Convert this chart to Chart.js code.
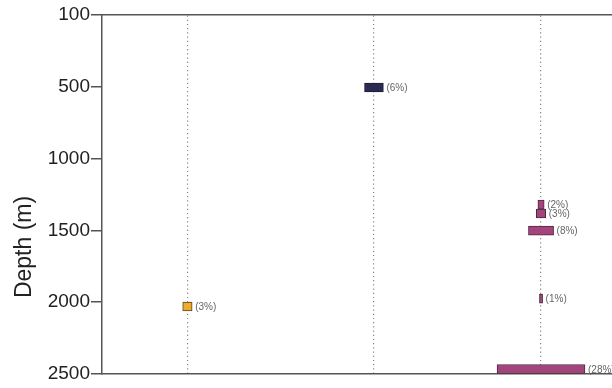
<!DOCTYPE html>
<html>
<head>
<meta charset="utf-8">
<script src="https://cdn.jsdelivr.net/npm/chart.js@4/dist/chart.umd.min.js"></script>
<style>
  html, body { margin: 0; padding: 0; background: #fff; }
  #wrap { width: 612px; height: 388px; }
</style>
</head>
<body>
<div id="wrap"><canvas id="depthChart"></canvas></div>
<script>
// column positions along x (in % units) and depth tick labels
const columnX = [27.2, 86.6, 139.8];
const depthTicks = [0, 500, 1000, 1500, 2000, 2500];
const depthTickLabels = ['100', '500', '1000', '1500', '2000', '2500'];

// one series per column: depth of each bar and its share (%)
const col1Depth = [2030];
const col1Pct = [3];
const col2Depth = [505];
const col2Pct = [6];
const col3Depth = [1320, 1382, 1502, 1975, 2465];
const col3Pct = [2, 3, 8, 1, 28];

const makeBars = (col, depths, pcts) =>
    depths.map((d, i) => ({ y: d, x: [columnX[col] - pcts[i] / 2, columnX[col] + pcts[i] / 2], pct: pcts[i] }));

const barLabels = {
    id: 'barLabels',
    afterDatasetsDraw(chart) {
        const ctx = chart.ctx;
        ctx.save();
        ctx.font = '10px "Liberation Sans", Arial, sans-serif';
        ctx.fillStyle = '#666';
        ctx.textBaseline = 'middle';
        chart.data.datasets.forEach((ds, di) => {
            chart.getDatasetMeta(di).data.forEach((el, i) => {
                ctx.fillText('(' + ds.data[i].pct + '%)', el.x + 3, el.y + 1);
            });
        });
        ctx.restore();
    }
};

const axisTitle = {
    id: 'axisTitle',
    afterDraw(chart) {
        const ctx = chart.ctx;
        ctx.save();
        ctx.font = '23px "Liberation Sans", Arial, sans-serif';
        ctx.fillStyle = '#222';
        ctx.textAlign = 'center';
        ctx.textBaseline = 'middle';
        ctx.translate(25, 247);
        ctx.rotate(-Math.PI / 2);
        ctx.fillText('Depth (m)', 0, 0);
        ctx.restore();
    }
};

const common = { borderWidth: 1, barThickness: 9, borderSkipped: false, grouped: false };

new Chart(document.getElementById('depthChart'), {
    type: 'bar',
    data: {
        datasets: [
            Object.assign({ data: makeBars(0, col1Depth, col1Pct), backgroundColor: '#eeaa2c', borderColor: '#5a4420' }, common),
            Object.assign({ data: makeBars(1, col2Depth, col2Pct), backgroundColor: '#2b2a50', borderColor: '#1c1c30' }, common),
            Object.assign({ data: makeBars(2, col3Depth, col3Pct), backgroundColor: '#a4437c', borderColor: '#4a2a3c' }, common)
        ]
    },
    options: {
        indexAxis: 'y',
        responsive: true,
        maintainAspectRatio: false,
        animation: false,
        layout: { padding: { top: 15, bottom: 14, left: 0, right: 0 } },
        plugins: { legend: { display: false }, tooltip: { enabled: false } },
        scales: {
            x: {
                type: 'linear',
                position: 'top',
                min: 0,
                max: 162.4,
                afterBuildTicks: scale => { scale.ticks = columnX.map(v => ({ value: v })); },
                afterFit: scale => { scale.height = 0; },
                ticks: { display: false },
                grid: { color: '#888', drawTicks: false, tickLength: 0, lineWidth: 1.2 },
                border: { color: '#555', width: 1.5, dash: [1.2, 3] }
            },
            x2: {
                type: 'linear',
                position: 'bottom',
                afterFit: scale => { scale.height = 0; },
                ticks: { display: false },
                grid: { display: false },
                border: { display: true, color: '#555', width: 1.5 }
            },
            y: {
                type: 'linear',
                reverse: true,
                offset: false,
                min: 0,
                max: 2500,
                afterBuildTicks: scale => { scale.ticks = depthTicks.map(v => ({ value: v })); },
                afterFit: scale => { scale.width = 102; },
                ticks: {
                    padding: 1,
                    color: '#222',
                    font: { family: '"Liberation Sans", Arial, sans-serif', size: 19 },
                    callback: (v, i) => depthTickLabels[i]
                },
                grid: { offset: false, drawOnChartArea: false, tickLength: 11, color: '#555', lineWidth: 1.5 },
                border: { color: '#555', width: 1.5 }
            }
        }
    },
    plugins: [barLabels, axisTitle]
});
</script>
</body>
</html>
